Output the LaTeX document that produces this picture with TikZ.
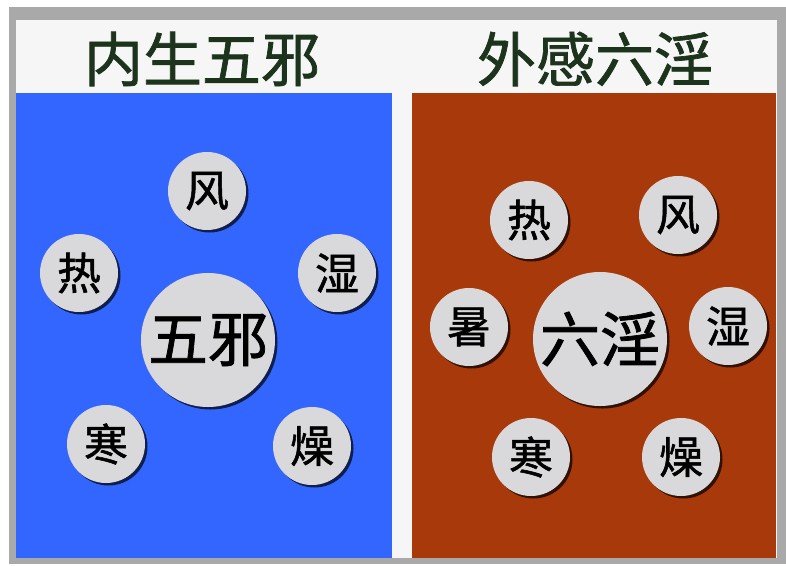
\documentclass[tikz,border=0pt]{standalone}
\usepackage{fontspec}
\newfontfamily\cjk[FakeBold=1.2]{Noto Sans CJK SC}
\usetikzlibrary{shadows}
\definecolor{frameGray}{HTML}{A9A9A9}
\definecolor{stripWhite}{HTML}{F6F6F6}
\definecolor{panelBlue}{HTML}{3366FF}
\definecolor{panelBrown}{HTML}{A8390A}
\definecolor{ballGray}{HTML}{D9D9DB}
\definecolor{titleGreen}{HTML}{1C331C}
\tikzset{
  ball/.style={circle, fill=ballGray, inner sep=0pt,
    drop shadow={shadow xshift=2.5pt, shadow yshift=-2.5pt, fill=black, opacity=0.7}},
  smallball/.style={ball, minimum size=78pt, font=\cjk\fontsize{44}{44}\selectfont},
  bigball/.style={ball, minimum size=134pt, font=\cjk\fontsize{60}{60}\selectfont},
  title/.style={text=titleGreen, font=\cjk\fontsize{59}{59}\selectfont}
}
\begin{document}
\begin{tikzpicture}[x=1pt, y=-1pt]
    \useasboundingbox (0,0) rectangle (786,565);
    \fill[white] (0,0) rectangle (786,565);
    % frame and panels
    \fill[frameGray] (9,7) rectangle (786,564);
    \fill[stripWhite] (16,20) rectangle (777,558);
    \fill[panelBlue] (16,93) rectangle (392,558);
    \fill[panelBrown] (412,93) rectangle (776,558);

    \node[title] (tleft) at (202,59) {内生五邪};
    \node[title] (tright) at (595,59) {外感六淫};

    % left: five evils
    \node[bigball] (lcenter) at (208,340) {五邪};
    \node[smallball] (lfeng) at (207,191) {风};
    \node[smallball] (lre) at (79,273) {热};
    \node[smallball] (lshi) at (337,273) {湿};
    \node[smallball] (lhan) at (106,444) {寒};
    \node[smallball] (lzao) at (312,446) {燥};

    % right: six excesses
    \node[bigball] (rcenter) at (600,339) {六淫};
    \node[smallball] (rre) at (529,220) {热};
    \node[smallball] (rfeng) at (678,215) {风};
    \node[smallball] (rshu) at (469,327) {暑};
    \node[smallball] (rshi) at (728,326) {湿};
    \node[smallball] (rhan) at (531,457) {寒};
    \node[smallball] (rzao) at (681,457) {燥};
\end{tikzpicture}
\end{document}
